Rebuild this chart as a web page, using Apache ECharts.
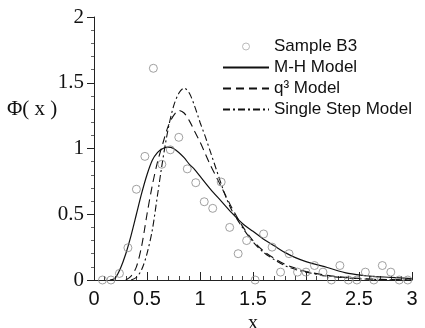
<!DOCTYPE html>
<html>
<head>
<meta charset="utf-8">
<script src="https://cdn.jsdelivr.net/npm/echarts@6/dist/echarts.min.js"></script>
<style>
  html, body { margin: 0; padding: 0; background: #fff; }
  #chart { width: 425px; height: 328px; }
</style>
</head>
<body>
<div id="chart"></div>
<script>
// measured sample points
var sampleX = [0.08, 0.16, 0.24, 0.32, 0.40, 0.48, 0.56, 0.64, 0.72, 0.80, 0.88, 0.96, 1.04, 1.12, 1.20, 1.28, 1.36, 1.44, 1.52,
               1.60, 1.68, 1.76, 1.84, 1.92, 2.00, 2.08, 2.16, 2.24, 2.32, 2.40, 2.48, 2.56, 2.64, 2.72, 2.80, 2.88, 2.96];
var sampleY = [0, 0, 0.05, 0.245, 0.69, 0.94, 1.61, 0.88, 0.99, 1.085, 0.845, 0.74, 0.595, 0.545, 0.745, 0.40, 0.20, 0.30, 0,
               0.35, 0.25, 0.06, 0.20, 0.06, 0.06, 0.11, 0.06, 0, 0.11, 0, 0, 0.06, 0, 0.11, 0.06, 0, 0];

// M-H model
var mhX = [0.15, 0.2, 0.25, 0.3, 0.35, 0.4, 0.45, 0.5, 0.55, 0.6, 0.65, 0.7, 0.75, 0.8, 0.85, 0.9, 0.95, 1.0,
           1.1, 1.2, 1.3, 1.4, 1.5, 1.6, 1.7, 1.8, 1.9, 2.0, 2.2, 2.4, 2.6, 2.8, 3.0];
var mhY = [0, 0.015, 0.09, 0.2, 0.34, 0.5, 0.66, 0.8, 0.91, 0.97, 1.0, 1.01, 1.0, 0.97, 0.93, 0.88, 0.84, 0.79,
           0.69, 0.6, 0.51, 0.43, 0.37, 0.31, 0.26, 0.21, 0.17, 0.14, 0.095, 0.05, 0.03, 0.02, 0.01];

// q3 model
var q3X = [0.3, 0.35, 0.4, 0.45, 0.5, 0.55, 0.6, 0.65, 0.7, 0.75, 0.8, 0.85, 0.9, 0.95, 1.0, 1.05, 1.1, 1.15, 1.2, 1.25,
           1.3, 1.4, 1.5, 1.6, 1.7, 1.8, 1.9, 2.0, 2.2, 2.4, 2.6, 2.8, 3.0];
var q3Y = [0, 0.03, 0.1, 0.26, 0.5, 0.72, 0.9, 1.04, 1.17, 1.25, 1.29, 1.27, 1.21, 1.13, 1.05, 0.96, 0.87, 0.79, 0.71, 0.63,
           0.55, 0.41, 0.3, 0.22, 0.165, 0.12, 0.09, 0.065, 0.035, 0.018, 0.008, 0.003, 0];

// single step model
var ssX = [0.35, 0.4, 0.45, 0.5, 0.55, 0.6, 0.65, 0.7, 0.75, 0.8, 0.85, 0.9, 0.95, 1.0, 1.05, 1.1, 1.15, 1.2, 1.25,
           1.3, 1.4, 1.5, 1.6, 1.7, 1.8, 1.9, 2.0, 2.2, 2.4, 2.6, 2.8, 3.0];
var ssY = [0, 0.02, 0.08, 0.2, 0.38, 0.65, 0.92, 1.15, 1.32, 1.42, 1.46, 1.42, 1.32, 1.2, 1.09, 0.97, 0.85, 0.73, 0.62,
           0.53, 0.4, 0.29, 0.21, 0.155, 0.11, 0.08, 0.06, 0.03, 0.015, 0.006, 0.002, 0];

var xTicks = ['0', '0.5', '1', '1.5', '2', '2.5', '3'];
var yTicks = ['0', '0.5', '1', '1.5', '2'];

function pairs(xs, ys) {
    var out = [];
    for (var i = 0; i < xs.length; i++) out.push([xs[i], ys[i]]);
    return out;
}

var myChart = echarts.init(document.getElementById('chart'));
myChart.setOption({
    animation: false,
    grid: {left: 94, right: 13, top: 17, bottom: 48, containLabel: false, outerBoundsMode: 'none'},
    legend: {
        orient: 'vertical',
        left: 222,
        top: 36,
        padding: 0,
        itemGap: 0,
        itemWidth: 46,
        itemHeight: 7,
        textStyle: {fontFamily: 'Liberation Sans', fontSize: 17, color: '#111', lineHeight: 21},
        data: [
            {name: 'Sample B3', itemStyle: {borderColor: '#aaa', borderWidth: 1}},
            {name: 'M-H Model', itemStyle: {opacity: 0}},
            {name: 'q³ Model', itemStyle: {opacity: 0}},
            {name: 'Single Step Model', itemStyle: {opacity: 0}}
        ]
    },
    xAxis: {
        type: 'value',
        min: 0,
        max: 3,
        interval: 0.5,
        axisLine: {lineStyle: {color: '#222', width: 1}},
        axisTick: {inside: true, length: 8, lineStyle: {color: '#222'}},
        minorTick: {show: true, splitNumber: 5, length: 4, lineStyle: {color: '#444'}},
        splitLine: {show: false},
        axisLabel: {
            fontFamily: 'Liberation Sans', fontSize: 20, color: '#111', margin: 9,
            formatter: function (v) { return xTicks[Math.round(v / 0.5)]; }
        },
        name: 'x',
        nameLocation: 'middle',
        nameGap: 29,
        nameTextStyle: {fontFamily: 'Liberation Serif', fontSize: 20, color: '#111'}
    },
    yAxis: {
        type: 'value',
        min: 0,
        max: 2,
        interval: 0.5,
        axisLine: {show: true, lineStyle: {color: '#222', width: 1}},
        axisTick: {show: true, length: 7, lineStyle: {color: '#222'}},
        minorTick: {show: true, splitNumber: 5, length: 3, lineStyle: {color: '#666'}},
        splitLine: {show: false},
        axisLabel: {
            fontFamily: 'Liberation Serif', fontSize: 21, color: '#111', margin: 10,
            formatter: function (v) { return yTicks[Math.round(v / 0.5)]; }
        }
    },
    graphic: [{
        type: 'text',
        left: 7,
        top: 99,
        style: {text: 'Φ( x )', fontFamily: 'Liberation Serif', fontSize: 21, fill: '#111'}
    }],
    series: [{
        name: 'Sample B3',
        type: 'scatter',
        symbol: 'circle',
        symbolSize: 8,
        itemStyle: {color: 'rgba(0,0,0,0)', borderColor: '#888', borderWidth: 1},
        data: pairs(sampleX, sampleY),
        z: 3
    }, {
        name: 'M-H Model',
        type: 'line',
        showSymbol: false,
        symbol: 'none',
        smooth: 0.3,
        itemStyle: {color: '#111'},
        lineStyle: {color: '#111', width: 1.2, type: 'solid'},
        data: pairs(mhX, mhY)
    }, {
        name: 'q³ Model',
        type: 'line',
        showSymbol: false,
        symbol: 'none',
        smooth: 0.3,
        itemStyle: {color: '#111'},
        lineStyle: {color: '#111', width: 1.1, type: [8, 5]},
        data: pairs(q3X, q3Y)
    }, {
        name: 'Single Step Model',
        type: 'line',
        showSymbol: false,
        symbol: 'none',
        smooth: 0.3,
        itemStyle: {color: '#111'},
        lineStyle: {color: '#111', width: 1.1, type: [7, 3, 2, 3]},
        data: pairs(ssX, ssY)
    }]
});
</script>
</body>
</html>
